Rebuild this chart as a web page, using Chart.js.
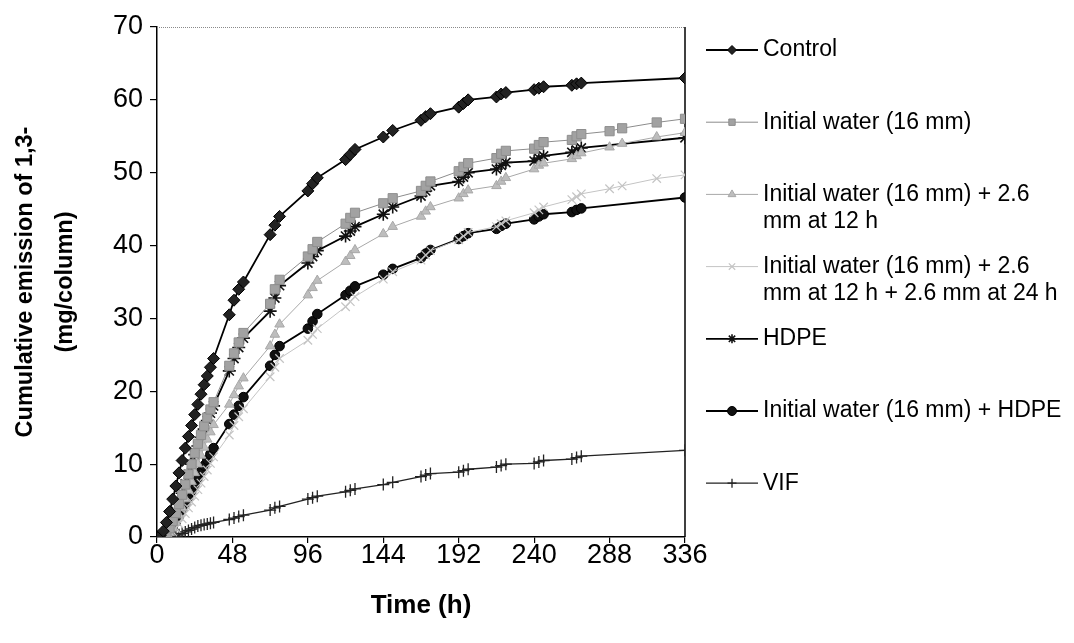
<!DOCTYPE html>
<html>
<head>
<meta charset="utf-8">
<script src="https://cdn.jsdelivr.net/npm/chart.js@4/dist/chart.umd.min.js"></script>
<style>
  body { margin: 0; background: #fff; }
  canvas { display: block; }
</style>
</head>
<body>
<canvas id="myChart" width="1074" height="643"></canvas>
<script>
// sampling times (h)
var timesMain = [0, 2, 4, 6, 8, 10, 12, 14, 16, 18, 20, 22, 24, 26, 28, 30, 32, 34, 36,
    46, 49, 52, 55, 72, 75, 78, 96, 99, 102, 120, 123, 126, 144, 150,
    168, 171, 174, 192, 195, 198, 216, 219, 222, 240, 243, 246, 264, 267, 270, 336];
var timesWater = [0, 2, 4, 6, 8, 10, 12, 14, 16, 18, 20, 22, 24, 26, 28, 30, 32, 34, 36,
    46, 49, 52, 55, 72, 75, 78, 96, 99, 102, 120, 123, 126, 144, 150,
    168, 171, 174, 192, 195, 198, 216, 219, 222, 240, 243, 246, 264, 267, 270, 288, 296, 318, 336];

var xTicks = [0, 48, 96, 144, 192, 240, 288, 336];
var yTicks = [0, 10, 20, 30, 40, 50, 60, 70];

var control = [0, 0.2, 0.8, 2, 3.5, 5.2, 7, 8.8, 10.5, 12.2, 13.8, 15.3, 16.8, 18.2, 19.6, 20.9, 22.1, 23.3, 24.5,
    30.5, 32.5, 34, 35, 41.5, 42.8, 44, 47.5, 48.5, 49.3, 51.8, 52.5, 53.2, 54.9, 55.8,
    57.2, 57.7, 58.1, 59, 59.5, 60, 60.4, 60.8, 61, 61.4, 61.6, 61.8, 62, 62.2, 62.3, 63];
var water16 = [0, 0, 0, 0.5, 1.2, 2.2, 3.3, 4.5, 5.8, 7.2, 8.6, 10, 11.5, 12.8, 14, 15.2, 16.4, 17.5, 18.5,
    23.5, 25.2, 26.7, 28, 32, 34, 35.3, 38.5, 39.5, 40.5, 43, 43.8, 44.5, 45.8, 46.5,
    47.5, 48.2, 48.8, 50.2, 50.8, 51.3, 52, 52.6, 53, 53.3, 53.8, 54.2, 54.5, 55, 55.3, 55.7, 56.1, 56.9, 57.4];
var water26 = [0, 0, 0, 0.2, 0.6, 1.2, 2, 3, 4, 5.2, 6.4, 7.6, 8.8, 10, 11.2, 12.3, 13.4, 14.4, 15.4,
    18.2, 19.5, 20.7, 21.8, 26.2, 27.8, 29.2, 33.2, 34.2, 35.2, 37.8, 38.6, 39.4, 41.6, 42.6,
    44, 44.7, 45.3, 46.5, 47.1, 47.6, 48.2, 48.8, 49.3, 50.5, 51, 51.3, 51.9, 52.3, 52.7, 53.5, 54, 54.9, 55.5];
var water2626 = [0, 0, 0, 0, 0.3, 0.7, 1.2, 1.8, 2.5, 3.2, 4, 4.8, 5.6, 6.5, 7.4, 8.3, 9.2, 10.1, 11,
    14, 15.3, 16.5, 17.6, 22, 23.3, 24.5, 27, 27.8, 28.6, 31.6, 32.3, 33, 35.4, 36.4,
    38, 38.7, 39.3, 40.8, 41.3, 41.8, 42.6, 43, 43.4, 44.5, 44.9, 45.3, 46.3, 46.7, 47.1, 47.8, 48.2, 49.2, 49.7];
var hdpe = [0, 0, 0.2, 0.8, 1.5, 2.5, 3.5, 4.8, 6, 7.3, 8.6, 10, 11.3, 12.5, 13.7, 14.8, 16, 17, 18,
    22.8, 24.5, 26, 27.3, 31, 32.8, 34.5, 37.6, 38.5, 39.3, 41.3, 42, 42.6, 44.3, 45.3,
    46.8, 47.5, 48.2, 48.8, 49.4, 50, 50.5, 51, 51.4, 51.6, 52, 52.3, 52.8, 53.1, 53.4, 54.8];
var waterHdpe = [0, 0, 0, 0.3, 0.8, 1.4, 2.1, 2.9, 3.7, 4.5, 5.4, 6.3, 7.2, 8.1, 9, 9.8, 10.6, 11.4, 12.2,
    15.5, 16.8, 18, 19.2, 23.5, 25, 26.2, 28.6, 29.6, 30.6, 33.2, 33.8, 34.4, 36, 36.8,
    38.3, 38.9, 39.4, 40.9, 41.3, 41.7, 42.3, 42.7, 43, 43.6, 44, 44.3, 44.6, 44.9, 45.1, 46.6];
var vif = [0, 0, 0, 0, 0, 0, 0.1, 0.3, 0.5, 0.7, 0.9, 1.1, 1.3, 1.5, 1.6, 1.7, 1.8, 1.9, 2.0,
    2.4, 2.6, 2.8, 3.0, 3.7, 4.0, 4.2, 5.2, 5.4, 5.6, 6.2, 6.4, 6.6, 7.2, 7.5,
    8.3, 8.5, 8.7, 8.9, 9.1, 9.3, 9.6, 9.8, 10, 10.1, 10.3, 10.5, 10.7, 10.9, 11.1, 11.9];

var seriesLabels = [
    ['Control'],
    ['Initial water (16 mm)'],
    ['Initial water (16 mm) + 2.6', 'mm at 12 h'],
    ['Initial water (16 mm) + 2.6', 'mm at 12 h + 2.6 mm at 24 h'],
    ['HDPE'],
    ['Initial water (16 mm) + HDPE'],
    ['VIF']
];

function pts(times, vals) {
    return vals.map(function (v, i) { return { x: times[i], y: v }; });
}

function ds(label, data, style, lineColor, fill, edge, radius, width, edgeWidth) {
    return {
        label: label.join(' '),
        data: data,
        pointStyle: style,
        pointRadius: radius,
        pointBackgroundColor: fill,
        pointBorderColor: edge,
        pointBorderWidth: edgeWidth,
        borderColor: lineColor,
        borderWidth: width,
        tension: 0,
        fill: false
    };
}

Chart.defaults.font.family = '"Liberation Sans", Arial, sans-serif';
Chart.defaults.color = '#000';

// frame: dotted grey top edge + black right edge
var framePlugin = {
    id: 'frame',
    beforeDatasetsDraw: function (chart) {
        var a = chart.chartArea, c = chart.ctx;
        c.save();
        c.strokeStyle = '#8a8a8a';
        c.lineWidth = 1;
        c.setLineDash([1, 1]);
        c.beginPath();
        c.moveTo(a.left, a.top + 0.5);
        c.lineTo(a.right, a.top + 0.5);
        c.stroke();
        c.setLineDash([]);
        c.strokeStyle = '#000';
        c.lineWidth = 1.5;
        c.beginPath();
        c.moveTo(a.right, a.top);
        c.lineTo(a.right, a.bottom);
        c.stroke();
        c.restore();
    }
};

// legend at the right, one entry per series
var sideLegend = {
    id: 'sideLegend',
    afterDraw: function (chart) {
        var c = chart.ctx, a = chart.chartArea;
        c.save();
        chart.data.datasets.forEach(function (d, i) {
            var y = a.top + 23 + i * 72.2;
            c.strokeStyle = d.borderColor;
            c.lineWidth = d.borderWidth;
            c.beginPath();
            c.moveTo(a.right + 21, y);
            c.lineTo(a.right + 73, y);
            c.stroke();
            c.fillStyle = d.pointBackgroundColor;
            c.strokeStyle = d.pointBorderColor;
            c.lineWidth = d.pointBorderWidth;
            Chart.helpers.drawPoint(c, { pointStyle: d.pointStyle, radius: 4.5, borderWidth: d.pointBorderWidth }, a.right + 47, y);
            c.fillStyle = '#000';
            c.font = '23px "Liberation Sans", Arial, sans-serif';
            c.textBaseline = 'middle';
            seriesLabels[i].forEach(function (t, j) {
                c.fillText(t, a.right + 78, y + j * 27);
            });
        });
        c.restore();
    }
};

const ctx = document.getElementById('myChart').getContext('2d');
const myChart = new Chart(ctx, {
    type: 'line',
    data: {
        datasets: [
            ds(seriesLabels[0], pts(timesMain, control), 'rectRot', '#000', '#222', '#000', 6, 1.8, 1),
            ds(seriesLabels[1], pts(timesWater, water16), 'rect', '#8c8c8c', '#a2a2a2', '#8e8e8e', 6.5, 1, 1),
            ds(seriesLabels[2], pts(timesWater, water26), 'triangle', '#a8a8a8', '#bdbdbd', '#a8a8a8', 5.5, 1, 1),
            ds(seriesLabels[3], pts(timesWater, water2626), 'crossRot', '#c4c4c4', '#cfcfcf', '#c4c4c4', 6, 1, 1.2),
            ds(seriesLabels[4], pts(timesMain, hdpe), 'star', '#000', '#000', '#111', 6.5, 1.8, 1.6),
            ds(seriesLabels[5], pts(timesMain, waterHdpe), 'circle', '#000', '#111', '#000', 4.8, 1.8, 1),
            ds(seriesLabels[6], pts(timesMain, vif), 'cross', '#222', '#000', '#222', 6, 1.3, 1.3)
        ]
    },
    options: {
        responsive: false,
        animation: false,
        events: [],
        layout: { padding: { top: 27, right: 389, left: 0, bottom: 0 } },
        plugins: { legend: { display: false }, tooltip: { enabled: false } },
        scales: {
            x: {
                type: 'linear',
                min: 0,
                max: 336,
                afterBuildTicks: function (s) { s.ticks = xTicks.map(function (v) { return { value: v }; }); },
                afterFit: function (s) { s.height = 106; },
                ticks: { font: { size: 27 }, padding: -4, maxRotation: 0, color: '#000' },
                grid: { drawOnChartArea: false, tickLength: 6, color: '#000', lineWidth: 1.2 },
                border: { color: '#000', width: 1.5 },
                title: { display: true, text: 'Time (h)', font: { size: 26, weight: 'bold' }, padding: { bottom: 22 }, color: '#000' }
            },
            y: {
                min: 0,
                max: 70,
                afterBuildTicks: function (s) { s.ticks = yTicks.map(function (v) { return { value: v }; }); },
                afterFit: function (s) { s.width = 157; },
                ticks: { font: { size: 27 }, padding: 7, color: '#000' },
                grid: { drawOnChartArea: false, tickLength: 7, color: '#000', lineWidth: 1.2 },
                border: { color: '#000', width: 1.5 },
                title: {
                    display: true,
                    text: ['Cumulative emission of 1,3-', '(mg/column)'],
                    font: { size: 23.5, weight: 'bold', lineHeight: 1.7 },
                    padding: { top: 6 },
                    color: '#000'
                }
            }
        }
    },
    plugins: [framePlugin, sideLegend]
});
</script>
</body>
</html>
